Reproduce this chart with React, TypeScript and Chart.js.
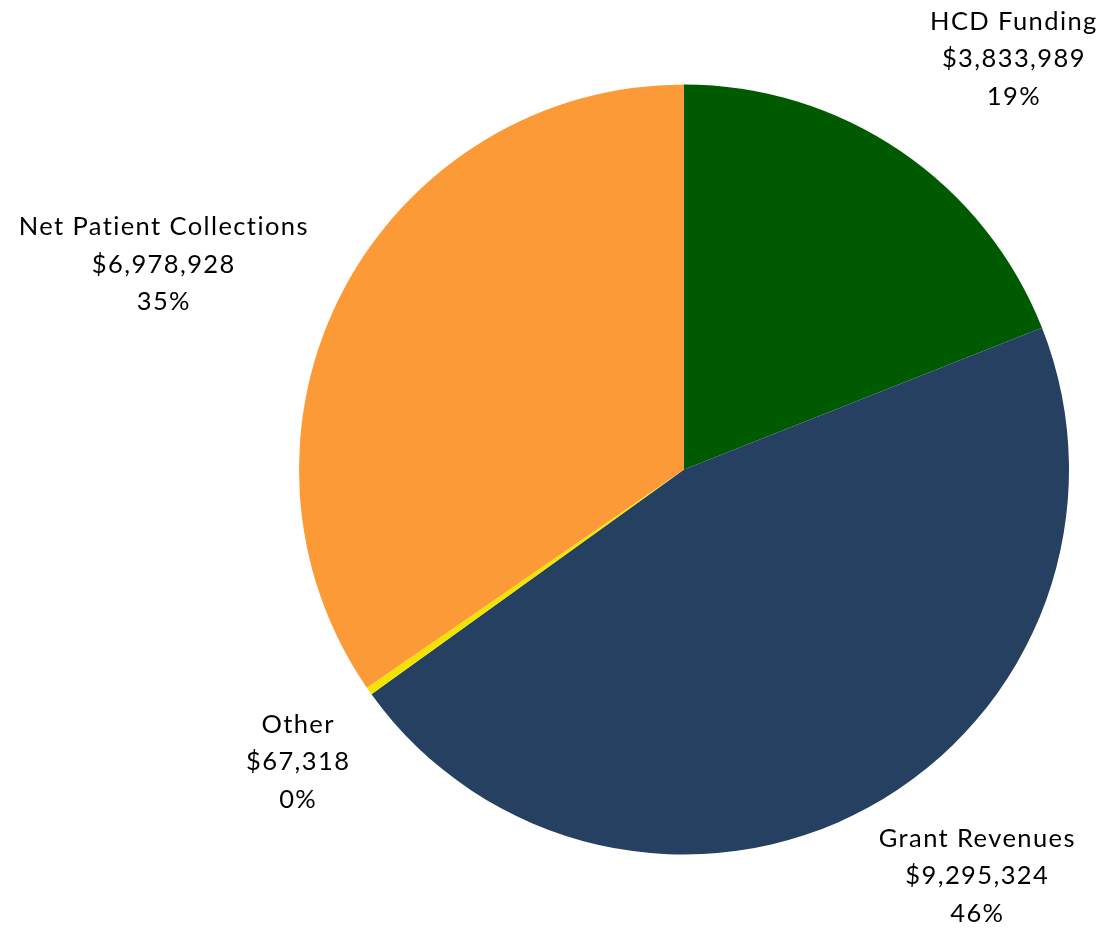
import React, { useEffect, useRef } from "react";
import { Chart, registerables } from "chart.js";

Chart.register(...registerables);

const categories = ["HCD Funding", "Grant Revenues", "Other", "Net Patient Collections"];
const values = [3833989, 9295324, 67318, 6978928];
const amountLabels = ["$3,833,989", "$9,295,324", "$67,318", "$6,978,928"];
const percentLabels = ["19%", "46%", "0%", "35%"];
const colors = ["#005A00", "#264061", "#F2E400", "#FD9A38"];

// label anchor (first-line baseline) relative to pie centre, in units of radius
const labelKx = [0.855, 0.76, -1.004, -1.353];
const labelKy = [-1.142, 0.98, 0.684, -0.609];

const labelPlugin = {
  id: "sliceLabels",
  afterDraw(chart: any) {
    const meta = chart.getDatasetMeta(0);
    const ctx = chart.ctx;
    ctx.save();
    ctx.fillStyle = "#000";
    ctx.font = "25.5px Lato";
    const spacing = 1.4;
    (ctx as any).letterSpacing = spacing + "px";
    ctx.textAlign = "center";
    ctx.textBaseline = "alphabetic";
    meta.data.forEach((arc: any, i: number) => {
      const { x, y, outerRadius } = arc.getProps(["x", "y", "outerRadius"], true);
      const lx = x + labelKx[i] * outerRadius;
      const ly = y + labelKy[i] * outerRadius;
      const lines = [categories[i], amountLabels[i], percentLabels[i]];
      lines.forEach((t, j) => ctx.fillText(t, lx + spacing / 2, ly + j * 37.5));
    });
    ctx.restore();
  },
};

export default function App() {
  const ref = useRef<HTMLCanvasElement>(null);
  useEffect(() => {
    const chart = new Chart(ref.current!, {
      type: "pie",
      data: {
        labels: categories,
        datasets: [
          {
            data: values,
            backgroundColor: colors,
            borderWidth: 0,
          },
        ],
      },
      options: {
        responsive: false,
        animation: false,
        layout: { padding: { left: 299, right: 34, top: 84.5, bottom: 77.5 } },
        plugins: { legend: { display: false }, tooltip: { enabled: false } },
      },
      plugins: [labelPlugin],
    });
    return () => chart.destroy();
  }, []);
  return (
    <div style={{ position: "absolute", left: 0, top: 0, width: 1103, height: 932, background: "#fff" }}>
      <canvas ref={ref} width={1103} height={932} style={{ width: 1103, height: 932 }} />
    </div>
  );
}
